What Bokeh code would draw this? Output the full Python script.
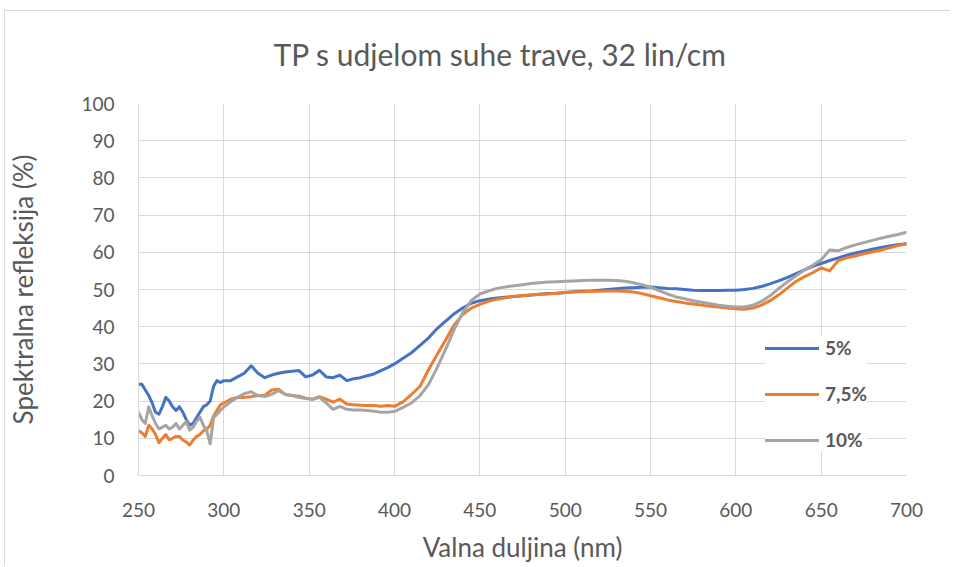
from bokeh.plotting import figure
from bokeh.models import Range1d, Legend, LegendItem, FixedTicker, ColumnDataSource
from bokeh.embed import file_html
from bokeh.resources import INLINE

# ---- data ----
wavelength = ([250, 252, 254, 256, 258, 260, 262, 264, 266, 268, 270, 272, 274, 276, 278,
               280, 282, 284, 286, 288, 290, 292, 294, 296, 298, 300]
              + [304, 308, 312, 316, 320, 324, 328, 332, 336, 340, 344, 348, 352, 356, 360,
                 364, 368, 372, 376, 380, 384, 388, 392, 396, 400]
              + list(range(405, 701, 5)))

refl_5 = [24.5, 24.5, 23, 21.5, 19.5, 17, 16.5, 18.5, 21, 20, 18.5, 17.5, 18.5, 17, 15,
          13.5, 14, 15.5, 17, 18.5, 19, 20, 24, 25.5, 25, 25.5,
          25.5, 26.5, 27.5, 29.5, 27.5, 26.3, 27, 27.5, 27.8, 28, 28.2, 26.5, 27, 28.3, 26.5,
          26.3, 27, 25.5, 26, 26.3, 26.8, 27.3, 28.2, 29, 30,
          31.5, 33, 35, 37, 39.5, 41.5, 43.5, 45, 46.3, 47, 47.4, 47.7, 47.9, 48.1, 48.3,
          48.5, 48.7, 48.9, 49, 49.2, 49.4, 49.5, 49.6, 49.8, 50, 50.2, 50.4, 50.5, 50.6, 50.7,
          50.5, 50.3, 50.2, 50, 49.8, 49.7, 49.7, 49.7, 49.8, 49.8, 50, 50.3, 50.8, 51.5, 52.3,
          53.2, 54.2, 55.2, 56.2, 57, 57.8, 58.5, 59.2, 59.8, 60.3, 60.8, 61.3, 61.7, 62, 62.3]

refl_7_5 = [12, 11.5, 10.5, 13.5, 12.5, 11, 8.8, 10, 11, 9.6, 10, 10.5, 10.5, 9.5, 9,
            8.2, 9.5, 10.5, 11, 12, 12.5, 13.5, 16, 17.5, 19, 19.5,
            20.5, 21, 21, 21.2, 21.5, 21.5, 23, 23.2, 21.8, 21.5, 21.3, 20.8, 20.5, 21.2, 20.5,
            19.7, 20.5, 19.2, 19, 18.9, 18.8, 18.8, 18.6, 18.8, 18.6,
            19.8, 21.8, 24, 28.5, 32.5, 36.5, 40.5, 43.3, 45, 46, 46.8, 47.4, 47.8, 48.1, 48.4,
            48.5, 48.7, 48.8, 49, 49.2, 49.3, 49.4, 49.5, 49.5, 49.6, 49.6, 49.5, 49.3, 48.9, 48.3,
            47.8, 47.2, 46.8, 46.4, 46.1, 45.8, 45.5, 45.3, 45, 44.8, 44.7, 45, 45.8, 47, 48.5,
            50.3, 52.1, 53.4, 54.5, 55.8, 55, 57.8, 58.5, 59, 59.6, 60.1, 60.6, 61.2, 61.8, 62.3]

refl_10 = [17, 15, 14, 18.5, 16, 14, 12.5, 13, 13.5, 12.5, 13, 14, 12.5, 13.5, 14.5,
           12.2, 13, 14.5, 15.7, 13.5, 12, 8.5, 15.5, 16.5, 17.5, 18.4,
           19.8, 21, 22, 22.5, 21.5, 21.2, 21.8, 22.8, 21.8, 21.5, 21, 20.7, 20.5, 21, 19.5,
           17.8, 18.6, 17.8, 17.6, 17.6, 17.5, 17.3, 17, 17, 17.2,
           18.3, 19.5, 21.5, 24.5, 29, 34, 39.3, 43.8, 47, 48.8, 49.6, 50.3, 50.7, 51, 51.3,
           51.6, 51.8, 52, 52.1, 52.2, 52.3, 52.4, 52.5, 52.5, 52.5, 52.4, 52.2, 51.8, 51.3, 50.6,
           49.7, 48.8, 48, 47.5, 47, 46.6, 46.2, 45.8, 45.5, 45.3, 45.3, 45.8, 46.8, 48.3, 50.2,
           52, 53.6, 55.2, 56.5, 58, 60.6, 60.4, 61.3, 62, 62.6, 63.2, 63.8, 64.3, 64.8, 65.4]

series_names = ["5%", "7,5%", "10%"]
series_colors = ["#4472C4", "#ED7D31", "#A5A5A5"]
x_ticks = [250, 300, 350, 400, 450, 500, 550, 600, 650, 700]
y_ticks = [0, 10, 20, 30, 40, 50, 60, 70, 80, 90, 100]

title_text = "TP s udjelom suhe trave, 32 lin/cm"
x_label = "Valna duljina (nm)"
y_label = "Spektralna refleksija (%)"

FONT = "Lato"
TXT = "#595959"
GRID = "#D9D9D9"

p = figure(width=950, height=565, output_backend="svg", toolbar_location=None,
           x_range=Range1d(250, 700), y_range=Range1d(0, 100),
           min_border_left=138, min_border_right=44, min_border_top=103,
           min_border_bottom=86, title=title_text)
# light chart-area border (top and left edges), drawn behind a transparent border fill
p.styles = {"background": ("linear-gradient(#D9D9D9, #D9D9D9) 4px 10px / 1px 100% no-repeat, "
                           "linear-gradient(#D9D9D9, #D9D9D9) 4px 10px / 100% 1px no-repeat, white")}

p.title.text_font = FONT
p.title.text_font_size = "30px"
p.title.text_font_style = "normal"
p.title.text_color = TXT
p.title.align = "left"
p.title.offset = 135
p.title.standoff = 64

p.outline_line_color = None
p.background_fill_color = "white"
p.border_fill_color = None

for ax in (p.xaxis[0], p.yaxis[0]):
    ax.axis_line_color = GRID
    ax.major_tick_line_color = None
    ax.minor_tick_line_color = None
    ax.major_tick_out = 0
    ax.major_tick_in = 0
    ax.major_label_text_font = FONT
    ax.major_label_text_font_size = "19px"
    ax.major_label_text_color = TXT
    ax.axis_label_text_font = FONT
    ax.axis_label_text_font_size = "26px"
    ax.axis_label_text_font_style = "normal"
    ax.axis_label_text_color = TXT

p.xaxis[0].ticker = FixedTicker(ticks=x_ticks)
p.yaxis[0].ticker = FixedTicker(ticks=y_ticks)
p.xaxis[0].axis_label = x_label
p.yaxis[0].axis_label = y_label
p.xaxis[0].major_label_standoff = 27
p.yaxis[0].major_label_standoff = 24
p.xaxis[0].axis_label_standoff = 11
p.yaxis[0].axis_label_standoff = 39

p.xgrid[0].ticker = FixedTicker(ticks=x_ticks)
p.ygrid[0].ticker = FixedTicker(ticks=y_ticks)
for g in (p.xgrid[0], p.ygrid[0]):
    g.grid_line_color = GRID
    g.grid_line_width = 1

renderers = []
for vals, col in zip([refl_5, refl_7_5, refl_10], series_colors):
    src = ColumnDataSource(dict(x=wavelength, y=vals))
    r = p.line("x", "y", source=src, line_color=col, line_width=3,
               line_cap="round", line_join="round")
    renderers.append(r)

legend = Legend(items=[LegendItem(label=n, renderers=[r]) for n, r in zip(series_names, renderers)],
                location=(627, 24))
legend.background_fill_color = "white"
legend.background_fill_alpha = 1.0
legend.border_line_color = None
legend.label_text_font = FONT
legend.label_text_font_style = "bold"
legend.label_text_font_size = "19px"
legend.label_text_color = TXT
legend.glyph_width = 54
legend.glyph_height = 22
legend.label_height = 22
legend.spacing = 23
legend.padding = 12
legend.margin = 0
legend.label_standoff = 6
p.add_layout(legend, "center")

html = file_html(p, INLINE)
open("out.html", "w").write(html)
